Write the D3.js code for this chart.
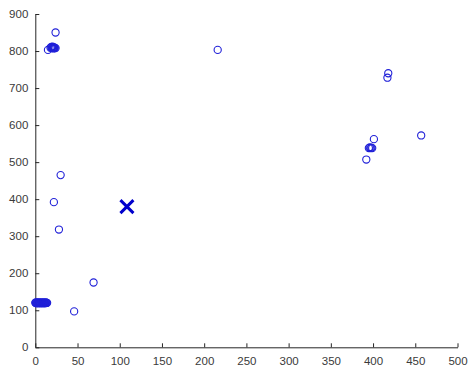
<!DOCTYPE html>
<html>
<head>
<meta charset="utf-8">
<script src="https://cdn.jsdelivr.net/npm/d3@7"></script>
<style>
  body { margin: 0; background: #fff; }
  .tick text { font-family: "Liberation Sans", Arial, sans-serif; font-size: 11.5px; fill: #3a3a3a; }
  .domain, .tick line { stroke: #262626; }
</style>
</head>
<body>
<div id="plot"></div>
<script>
const FRAME_WIDTH = 468;
const FRAME_HEIGHT = 372;
const MARGINS = {left: 35.3, right: 10.5, top: 14, bottom: 24.7};

const VIS_WIDTH = FRAME_WIDTH - MARGINS.left - MARGINS.right;
const VIS_HEIGHT = FRAME_HEIGHT - MARGINS.top - MARGINS.bottom;

// data
const pointsX = [24, 15, 18, 19, 19.5, 20, 20.5, 21, 21.5, 22, 22.5, 23, 24,
                 30, 22, 28, 69, 46,
                 216, 418, 417, 401, 395, 396, 397, 398, 399, 392, 457,
                 0, 0.5, 1, 1.5, 2, 2.5, 3, 3.5, 4, 4.5, 5, 5.5, 6, 6.5, 7, 7.5,
                 8, 8.5, 9, 9.5, 10, 10.5, 11, 11.5, 12, 12.5, 13, 13.5, 14];
const pointsY = [850, 803, 809, 811, 808, 810, 812, 809, 807, 810, 808, 809, 808,
                 465, 392, 318, 175, 97,
                 803, 740, 728, 562, 538, 540, 538, 539, 538, 507, 572,
                 120, 121, 120, 119, 120, 121, 120, 120, 119, 120, 121, 120, 120, 119, 120, 121,
                 120, 120, 119, 120, 121, 120, 120, 119, 120, 121, 120, 120, 120];
const centroid = [108.5, 380];
const xTicks = [0, 50, 100, 150, 200, 250, 300, 350, 400, 450, 500];
const yTicks = [0, 100, 200, 300, 400, 500, 600, 700, 800, 900];

const FRAME = d3.select("#plot")
                .append("svg")
                  .attr("width", FRAME_WIDTH)
                  .attr("height", FRAME_HEIGHT);

const X_SCALE = d3.scaleLinear().domain([0, 500]).range([0, VIS_WIDTH]);
const Y_SCALE = d3.scaleLinear().domain([0, 900]).range([VIS_HEIGHT, 0]);

// axes, ticks pointing inward like matlab
FRAME.append("g")
    .attr("transform", "translate(" + MARGINS.left + "," + (MARGINS.top + VIS_HEIGHT) + ")")
    .call(d3.axisBottom(X_SCALE).tickValues(xTicks).tickSizeInner(-4).tickSizeOuter(0).tickPadding(10))
    .call(g => g.selectAll(".tick text").attr("dy", "0.71em"));

FRAME.append("g")
    .attr("transform", "translate(" + MARGINS.left + "," + MARGINS.top + ")")
    .call(d3.axisLeft(Y_SCALE).tickValues(yTicks).tickSizeInner(-4).tickSizeOuter(0).tickPadding(7));

const plot = FRAME.append("g")
    .attr("transform", "translate(" + MARGINS.left + "," + MARGINS.top + ")");

// points
plot.selectAll("circle")
    .data(d3.range(pointsX.length))
    .enter()
    .append("circle")
      .attr("cx", (i) => X_SCALE(pointsX[i]))
      .attr("cy", (i) => Y_SCALE(pointsY[i]))
      .attr("r", 3.6)
      .attr("fill", "none")
      .attr("stroke", "#2020d8")
      .attr("stroke-width", 1.1);

// centroid cross
const cx = X_SCALE(centroid[0]);
const cy = Y_SCALE(centroid[1]);
const s = 6.5;
plot.append("path")
    .attr("d", "M" + (cx - s) + "," + (cy - s) + "L" + (cx + s) + "," + (cy + s) +
               "M" + (cx - s) + "," + (cy + s) + "L" + (cx + s) + "," + (cy - s))
    .attr("stroke", "#0000cc")
    .attr("stroke-width", 3)
    .attr("fill", "none");
</script>
</body>
</html>
